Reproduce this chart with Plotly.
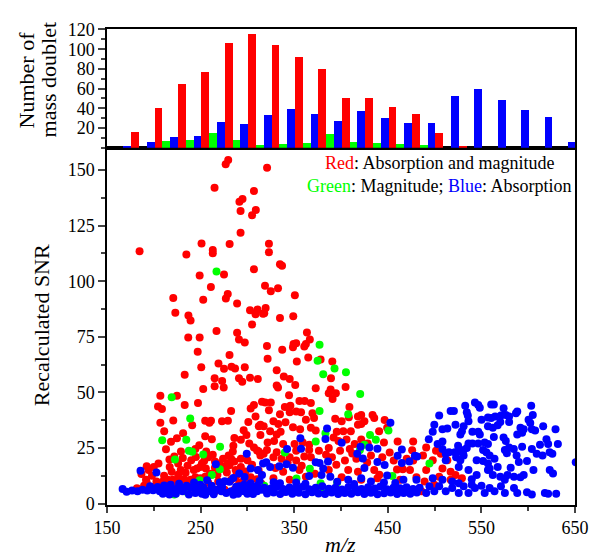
import plotly.graph_objects as go

# histogram (top panel): bin centres in m/z and counts per colour
bin_centers = [180, 205, 230, 255, 280, 305, 330, 355, 380, 405,
               430, 455, 480, 505, 530, 555, 580, 605, 630, 655]
blue_counts = [1, 6, 11, 12, 26, 24, 33, 39, 34, 27, 37, 30, 25, 25, 53, 60, 48, 38, 31, 6]
red_counts = [16, 40, 65, 77, 106, 115, 104, 92, 80, 50, 50, 41, 34, 15, 2, 0, 0, 0, 0, 0]
green_counts = [0, 7, 8, 15, 8, 3, 4, 5, 14, 6, 5, 4, 3, 0, 0, 0, 0, 0, 0, 0]

# scatter (bottom panel): (m/z, recalculated SNR)
red_points = [
    (279.5, 154.5), (276.8, 152.6), (264.9, 142), (307, 140.6), (291.5, 135.7), (294.8, 137),
    (292.7, 131.6), (309, 132), (305, 129.7), (292.7, 121.8), (251, 117), (281, 116.7),
    (184.8, 113.5), (234.8, 112), (263, 114), (263, 112.6), (275, 103), (249, 102.6),
    (307, 105.4), (261, 97.4), (279, 94.3), (277, 92.2), (220.8, 92.5), (252.8, 91.7),
    (289, 90), (223, 85.8), (237, 84.6), (239.3, 82.3), (302.8, 87), (310.8, 87.3),
    (308.7, 85.2), (316.7, 85.4), (305, 80.6),
    (321, 151), (323, 116.8), (323, 113), (334.8, 107.6), (337, 107), (318.8, 98),
    (325, 95.5), (332.7, 96.8), (350.7, 93.7), (319.5, 88), (318, 85.6), (334.8, 83.5), (349, 84.2),
    (267, 77.6), (289, 76.8), (291, 73.8), (297.2, 72.4), (236.8, 74.7), (249, 74.7),
    (246.9, 68.3), (280.9, 66.8), (250.7, 61.3), (269.1, 63), (275, 60.7), (283, 61.6),
    (286.8, 60.8), (297.2, 61.3), (233, 58), (265, 56.4), (273, 55.1), (274.7, 52.2),
    (265, 52.8), (291, 56.4), (294.5, 54.8), (302.8, 56.6), (311.1, 56), (252.8, 51.5),
    (207, 48.5), (224.7, 48.5), (204.5, 43.7), (208.7, 42.6), (233, 44.3), (247.2, 45.3),
    (307, 44.3), (303.5, 42.8), (315.6, 45.8), (282.6, 41.7), (308.7, 39.2), (207, 36.4),
    (220.8, 37.4), (241, 35.2), (254.9, 37.3), (259.4, 36.4), (261.1, 37.3), (272.9, 37),
    (279.2, 37.3), (301, 36.7), (312.2, 34.8), (313.9, 35.5), (211.1, 32.5), (231.3, 31.7),
    (254.9, 30.3), (299, 30.9), (286.1, 29.5), (293, 28.7), (313.9, 30.9), (224.7, 29.4),
    (218.4, 27.8), (248.6, 26.3), (244.4, 24.6), (302, 27.1), (307, 25.3), (284.4, 23.4),
    (279.9, 21.7), (312.2, 23.4), (216.7, 19.9), (221.9, 21.2), (258.3, 20.9), (253.8, 19.2),
    (251.4, 18), (274, 20.2), (265.3, 19), (279.2, 18), (282.6, 20.2), (293, 20.2),
    (192.4, 16.8), (194.5, 15.1), (186.8, 13.3), (191.7, 10.7), (219.1, 14.3), (228.8, 15.1),
    (234, 13.9), (242.7, 15.1), (246.2, 15.8), (249.7, 16.5), (255.6, 15.8), (265.3, 16.2),
    (272.9, 15.8), (276.4, 16.8), (280.9, 17.3), (287.5, 15.1), (293, 16.5), (202.8, 10),
    (209.7, 10), (214.9, 10.7), (220.1, 10.7), (225.3, 10.7), (232.3, 11), (239.2, 10.7),
    (244.4, 11.9), (249.7, 11.4), (254.9, 12.1), (192.4, 9.5), (189.6, 8), (182, 6.9),
    (268.8, 10), (282.6, 10.7), (291.3, 9.5), (296.5, 10.7), (303.5, 11.9), (310.4, 11),
    (310.4, 23.9), (313.9, 21.6), (220, 7.8), (230.6, 7.1), (241, 7.1), (254.9, 6.3),
    (265.3, 5.6), (275.7, 6.3), (286.1, 6.3), (198, 12.5), (205, 18), (240, 19.5), (260, 13.5),
    (197, 7.5), (204, 9), (211, 12.5), (217, 16.5), (226, 18), (231, 20.5), (236, 17),
    (245, 21), (256, 23.5), (263, 22), (270, 18), (278, 14), (286, 19), (298, 14.5),
    (305, 17.5), (315, 9), (246, 8.5), (258, 9.5), (272, 8), (300, 7.5), (226, 13),
    (212, 7.5), (236, 9),
    (363.6, 76.9), (352.1, 72.1), (348.7, 70.3), (349.3, 71.8), (362.5, 71.8), (366.7, 73.8),
    (360.8, 70.6), (320.9, 70.9), (337.2, 69.2), (321.6, 65.1), (352.8, 63.9), (365, 65.7),
    (378.2, 64.8), (390.7, 63.9), (331.3, 60), (338.9, 57.2), (345.2, 56), (389.3, 56.4),
    (331.3, 53.1), (332.7, 52.2), (351.1, 53.4), (373, 51.9), (404.9, 52.5), (388.9, 51.3),
    (394.5, 49.6), (386.9, 49.6), (344.5, 48.7), (391, 47), (319.1, 45.5), (325, 45.5),
    (355.6, 46.1), (361.2, 46.1), (367.8, 45.2), (340, 43.4), (345.9, 44), (323, 42),
    (409, 43.4), (334.8, 40.2), (345.2, 41.1), (352.1, 41.4), (357.3, 41.1), (369.5, 40.7),
    (418.1, 39.2), (421.6, 39.9), (433.7, 39.9), (327.8, 37), (333, 35.8), (340.7, 36.6),
    (362.5, 37.7), (371.2, 38.5), (393.8, 38.2), (400.7, 37), (408.4, 38.8), (425, 37),
    (435.5, 38.5), (446.6, 37.6), (317.4, 34.8), (324.3, 32.6), (331.3, 31.1), (335.5, 32.3),
    (348.7, 34.4), (356.3, 33.4), (367.8, 34.1), (373, 32.9), (395.5, 32.3), (402.5, 32.6),
    (410.5, 32.6), (418.1, 35.5), (421.6, 35.8), (440.7, 32.6), (449.3, 34.1), (321.6, 27.5),
    (328.5, 28.2), (338.2, 26.8), (350.4, 26.8), (359.1, 27.5), (366, 26.5), (392.1, 29.7),
    (397.3, 28.2), (405.9, 28.9), (414.6, 26.8), (421.6, 28.9), (428.5, 27.1), (445.9, 27.5),
    (460.5, 27.9), (477.1, 27.9), (320.9, 24.1), (331.3, 23.1), (352.1, 23.8), (366, 24.1),
    (376.4, 23.8), (386.9, 25), (399, 23.8), (409.4, 24.6), (317.4, 22.4), (327.8, 20.9),
    (336.5, 20.2), (345.2, 20.9), (352.1, 19.4), (360.8, 21.2), (367.8, 20.9), (390.3, 20.9),
    (404.2, 19.4), (416.4, 20.2), (432, 21.6), (444.1, 20.9), (456.3, 19.4), (470.2, 20.2),
    (477.1, 19.4), (338.2, 14.3), (355.6, 15.1), (386.9, 15.1), (407.7, 15.1), (418.1, 14.3),
    (435.5, 15.1), (459.8, 15.4), (473.7, 15.1), (327.8, 11.4), (345.2, 10.7), (362.5, 12.1),
    (400.7, 11.9), (421.6, 10.7), (438.9, 11.4), (463.2, 10.7), (480.6, 11.9),
    (325, 6), (340, 5.5), (370, 6), (400, 5.5), (430, 6), (460, 5.8),
    (330, 16), (343, 18.5), (358, 17), (372, 13.5), (384, 22), (395, 17.5), (412, 22.5),
    (428, 18.5), (441, 13), (452, 23), (466, 15.5), (476, 24), (312, 15), (300, 19.5),
    (288, 12.5), (268, 13), (285, 26), (296, 33), (262, 29), (229, 23.5), (213, 24.5), (200, 16.5),
    (491, 25.3), (487.6, 21.6), (501.5, 23.8), (506.7, 22.4), (498, 19.5), (513.6, 19.5),
    (491, 15.1), (508.4, 15.8), (517.1, 14.3), (522.3, 12.9), (529.2, 11.4), (489.3, 10),
    (499.7, 8.5), (504.9, 12.1), (517.1, 10.7), (485.8, 5.6),
]

green_points = [
    (267, 104.4), (219.1, 47.8), (238.9, 38.3), (209, 28.5), (234.7, 28.7), (237.5, 23.8),
    (241, 23.3), (252.8, 22.1), (270.8, 25.6), (222.6, 19.9), (262, 12.9), (270.5, 15.5),
    (221.9, 4.1), (249, 10.5), (234, 5.5),
    (377.1, 71.4), (375, 64.2), (393.1, 60.8), (405.3, 59.1), (381, 58.2), (420.5, 49.3),
    (377.1, 41.7), (407.7, 40.2), (383.4, 31.6), (431, 30.9), (450.7, 32.9), (373, 27.9),
    (437.2, 28.7), (425, 26.5), (420.2, 24.1), (340, 23), (366.7, 15.7), (352.5, 11.3),
    (454.9, 12.4), (378.2, 9.2), (380.6, 6.9), (395.9, 9.5), (318, 8), (494.5, 18),
]

blue_points = [
    (166.7, 6.6), (176.7, 5.9), (182.6, 5.6), (185.8, 14.8), (202.8, 14), (193.1, 5.9),
    (199.3, 6), (206.3, 5.6), (213.2, 6.3), (220.1, 6.6), (225.3, 6.7), (230.6, 5.6),
    (209.7, 4.5), (216.7, 4.1), (223.6, 4.5), (237.5, 4.1), (244.4, 4.8), (251.4, 4.5),
    (258.3, 5.6), (261.8, 7), (267, 6.3), (272.2, 5.6), (277.4, 4.8), (282.6, 5.6),
    (289.6, 6.3), (296.5, 5.6), (303.5, 7), (310.4, 5.6), (315.6, 6.3), (249.7, 8.5),
    (261.8, 8), (270.5, 9.5), (275.7, 10.1), (280.9, 9.8), (266.3, 17.7), (299.3, 22.4),
    (291.3, 13.6), (303.5, 15.8), (311.1, 15.1), (315.6, 12.9), (316.7, 18), (291.3, 7.8),
    (296.5, 8.5), (303.5, 9.2), (310.4, 8), (232, 6.9), (239, 7.2), (246, 6.5), (253, 7.3),
    (255, 4), (285, 4), (300, 4.5), (288, 7.6), (308, 7.1),
    (171, 5.4), (188, 6.2), (196, 7.8), (204, 7.5), (211, 8.2), (218, 8.5), (227, 9),
    (235, 8), (243, 9.5), (257, 10.5), (264, 4.2), (273, 7.4), (290, 4.5), (306, 4.3),
    (313, 10.2), (285, 11.5), (297, 12),
    (452.8, 36.4), (385.1, 33.8), (356.6, 29.4), (383.4, 29.1), (400.7, 27.4), (420.9, 25.6),
    (430.3, 25.3), (417.4, 22.4), (438.9, 24.7), (357.3, 24.7), (342.4, 24.6), (320.2, 18.6),
    (324.3, 16.5), (334.1, 16.8), (341.7, 17.7), (348.7, 16.2), (373, 18.6), (377.1, 18.3),
    (381, 15.8), (386.1, 18.9), (423.3, 20.3), (438.9, 18.7), (446.6, 17.4), (460.5, 21.5),
    (465, 18.3), (473, 18.9), (478.9, 21.5), (481.3, 21.2), (465, 24.4), (425, 16),
    (449.3, 12.7), (334.8, 9.2), (352.1, 9.5), (366, 12.4), (379.2, 12.9), (388.6, 12.1),
    (407.7, 10.7), (421.6, 11.4), (432, 10), (445.9, 9.5), (466.7, 10.7), (480.6, 10.7),
    (318, 7.2), (325, 6.8), (331, 7.5), (338, 6.6), (345, 7.3), (352, 6.9), (359, 7.6),
    (366, 6.5), (373, 7.1), (380, 7.8), (387, 6.7), (394, 7.2), (401, 6.4), (408, 7.5),
    (415, 7), (422, 6.6), (429, 7.4), (436, 6.8), (442, 7.7), (449, 6.5), (456, 7.2),
    (463, 6.9), (470, 7.4), (477, 6.6), (484, 7.1),
    (321, 4.6), (328, 5), (335, 4.3), (341, 5.2), (348, 4.5), (355, 4.9), (362, 4.2),
    (369, 5.1), (376, 4.6), (383, 4.4), (390, 5), (397, 4.3), (404, 4.8), (411, 4.5),
    (418, 5.1), (425, 4.4), (432, 4.9), (439, 4.2), (446, 4.7), (453, 5), (460, 4.4),
    (467, 4.8), (474, 4.5), (481, 5), (328, 9.6), (362, 9), (396, 9.8), (414, 8.8), (458, 9.3),
    (543.1, 45.5), (546.6, 44.3), (548.3, 43.1), (532.7, 44), (560.5, 44.6), (563.3, 44.6),
    (573.7, 42.9), (588.3, 41.4), (586.9, 40.7), (603.2, 44), (517.1, 41.7), (520.6, 41.7),
    (534.4, 41.1), (535.5, 39.6), (504.9, 39.6), (557, 38.7), (560.5, 38.5), (564.7, 39.2),
    (570.9, 39.6), (576.1, 39.9), (579.6, 39.2), (604.9, 39.9), (600.4, 37.7), (602.2, 36.3),
    (499.7, 35.5), (522.3, 35.5), (531, 34.8), (536.2, 37), (550.1, 37.7), (570.2, 36.7),
    (579.6, 36.7), (557, 34.8), (562.2, 34.1), (567.4, 35.2), (591.7, 34.1), (595.2, 33.4),
    (603.9, 33.4), (607.4, 32.9), (616, 34.8), (629.2, 33.4), (498, 32.3), (508.4, 33.4),
    (513.6, 33.8), (529.2, 32.6), (540.4, 32.3), (546.6, 32.3), (493.8, 29), (503.2, 26.8),
    (508.4, 27.9), (527.5, 31.1), (536.2, 27.1), (548.3, 31.1), (563.3, 30), (573.7, 29.7),
    (576.1, 28.2), (588.3, 31.1), (593.5, 31.9), (619.5, 29), (621.3, 26.8), (612.6, 26.5),
    (631.7, 26.8), (546.6, 27.1), (553.5, 27.5), (557, 26.8), (525.1, 26), (534.4, 25),
    (540.4, 27.1), (525.8, 23.6), (531, 24.1), (508.4, 24.6), (515.4, 23.1), (521.6, 23.1),
    (551.8, 24.1), (555.3, 23.1), (558.8, 21.6), (564, 20.2), (579.6, 25.3), (584.6, 24.6),
    (575.1, 24.1), (577.2, 22.7), (593.5, 25.6), (603.9, 24.6), (609.1, 22.4), (615.3, 21.6),
    (622.9, 23.1), (625.8, 22.4), (587.6, 21.6), (523, 20.9), (527.5, 19.5), (531, 21.6),
    (544.9, 19.5), (551.8, 19.2), (557, 18), (590, 18.7), (598.7, 19.2), (605.6, 15.1),
    (623, 15.1), (626.5, 13.6), (567.4, 16.5), (581.3, 16.2), (584.8, 12.1), (591.7, 11.9),
    (595.2, 12.9), (577.9, 12.9), (558.8, 15.8), (557, 15.1), (562.2, 12.9), (570.2, 12.1),
    (575, 10.7), (511.9, 22.4), (511.9, 19.5), (525.8, 16.5), (536.2, 15.1), (544.9, 12.9),
    (539.7, 11), (650.8, 18.6),
    (491, 4.8), (499.7, 5.6), (504.9, 7.8), (511.9, 5.6), (518.8, 7), (525.8, 4.8), (531, 7.8),
    (536.2, 4.8), (543.1, 7), (550.1, 8.1), (553.5, 4.8), (558.8, 7), (564, 5.6), (570.9, 7.8),
    (575.1, 4.8), (584.8, 7), (588.3, 4.8), (598.7, 5.1), (603.9, 4.1), (617.8, 4.8),
    (621.3, 4.5), (629.9, 4.5), (525.8, 9.2), (539.7, 8.5), (518.8, 10), (508.4, 10.7),
    (498, 11.4), (494.5, 7.8),
]

FONT = "Liberation Serif"


def marker_trace(points, color):
    return go.Scatter(
        x=[p[0] for p in points],
        y=[p[1] for p in points],
        mode="markers",
        marker=dict(color=color, size=8, line=dict(width=0)),
        xaxis="x", yaxis="y",
        showlegend=False,
    )


fig = go.Figure()

# bars: blue, red, green within each group
for counts, color in [(blue_counts, "#0000FF"), (red_counts, "#FF0000"), (green_counts, "#00FF00")]:
    fig.add_trace(go.Bar(
        x=bin_centers, y=counts, marker=dict(color=color, line=dict(width=0)),
        xaxis="x2", yaxis="y2", showlegend=False,
    ))

fig.add_trace(marker_trace(red_points, "#FF0000"))
fig.add_trace(marker_trace(green_points, "#00FF00"))
fig.add_trace(marker_trace(blue_points, "#0000FF"))

axis_common = dict(
    showline=True, linewidth=1.5, linecolor="black", mirror=True,
    showgrid=False, zeroline=False,
    tickfont=dict(family=FONT, size=18, color="black"),
)

# the page body has an 8px margin, so the figure is 8px smaller each way
split = 0.7505
fig.update_layout(
    width=593, height=549,
    margin=dict(l=99, r=14, t=12, b=52),
    plot_bgcolor="white", paper_bgcolor="white",
    barmode="group", bargap=0, bargroupgap=0,
    xaxis=dict(
        axis_common, domain=[0, 1], anchor="y", range=[150, 650],
        tick0=150, dtick=100, ticks="outside", ticklen=6, tickwidth=1.5,
        minor=dict(tick0=150, dtick=50, ticks="outside", ticklen=4, tickwidth=1.5),
    ),
    yaxis=dict(
        axis_common, domain=[0, split], anchor="x", range=[-0.6, 160],
        tick0=0, dtick=25, ticks="outside", ticklen=7, tickwidth=1.5,
        minor=dict(tick0=0, dtick=12.5, ticks="outside", ticklen=4, tickwidth=1.5),
    ),
    xaxis2=dict(
        axis_common, domain=[0, 1], anchor="y2", matches="x", range=[150, 650],
        showticklabels=False, ticks="",
    ),
    yaxis2=dict(
        axis_common, domain=[split, 1], anchor="x2", range=[0, 120.5],
        tickvals=[20, 40, 60, 80, 100, 120], ticks="outside", ticklen=7, tickwidth=1.5,
        minor=dict(tick0=0, dtick=10, ticks="outside", ticklen=4, tickwidth=1.5),
    ),
)

text_font = dict(family=FONT, size=18, color="black")
title_font = dict(family=FONT, size=22, color="black")
fig.add_annotation(text="<span style='color:#FF0000'>Red</span>: Absorption and magnitude",
                   x=0.71, y=0.7175, xref="paper", yref="paper", showarrow=False,
                   xanchor="center", yanchor="middle", font=text_font)
fig.add_annotation(text="<span style='color:#00FF00'>Green</span>: Magnitude; "
                        "<span style='color:#0000FF'>Blue</span>: Absorption",
                   x=0.71, y=0.670, xref="paper", yref="paper", showarrow=False,
                   xanchor="center", yanchor="middle", font=text_font)
fig.add_annotation(text="Recalculated SNR", x=-0.1396, y=0.377, xref="paper", yref="paper",
                   showarrow=False, textangle=-90, xanchor="center", yanchor="middle",
                   font=title_font)
fig.add_annotation(text="Number of", x=-0.172, y=0.893, xref="paper", yref="paper",
                   showarrow=False, textangle=-90, xanchor="center", yanchor="middle",
                   font=title_font)
fig.add_annotation(text="mass doublet", x=-0.125, y=0.893, xref="paper", yref="paper",
                   showarrow=False, textangle=-90, xanchor="center", yanchor="middle",
                   font=title_font)
fig.add_annotation(text="<i>m/z</i>", x=0.498, y=-0.0825, xref="paper", yref="paper",
                   showarrow=False, xanchor="center", yanchor="middle", font=title_font)

fig.write_html("out.html")
